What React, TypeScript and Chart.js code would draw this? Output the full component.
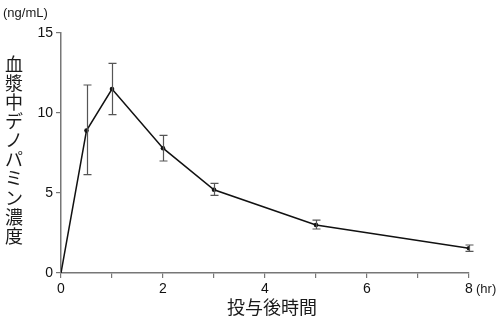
import React, { useEffect, useRef } from 'react';
import { Chart, registerables } from 'chart.js';
Chart.register(...registerables);

const hours = [0, 0.5, 1, 2, 3, 5, 8];
const meanConc = [0, 8.9, 11.5, 7.8, 5.2, 3.0, 1.55];
const errUpper: (number | null)[] = [null, 11.75, 13.1, 8.6, 5.6, 3.3, 1.75];
const errLower: (number | null)[] = [null, 6.15, 9.9, 7.0, 4.85, 2.75, 1.35];
const yTitle = '血漿中デノパミン濃度';
const xTitle = '投与後時間';
const yUnit = '(ng/mL)';
const xUnit = '(hr)';

const NUM_FONT = '"Liberation Sans", Arial, sans-serif';
const JP_FONT = '"Noto Sans CJK JP", sans-serif';

const extrasPlugin = {
  id: 'extras',
  afterDatasetsDraw(chart: any) {
    const { ctx, scales } = chart;
    const xs = scales.x;
    const ys = scales.y;
    ctx.save();
    ctx.strokeStyle = '#555';
    ctx.lineWidth = 1.2;
    for (let i = 0; i < hours.length; i++) {
      const up = errUpper[i];
      const lo = errLower[i];
      if (up == null || lo == null) continue;
      const px = Math.round(xs.getPixelForValue(hours[i])) + 0.5;
      const py1 = ys.getPixelForValue(up);
      const py2 = ys.getPixelForValue(lo);
      ctx.beginPath();
      ctx.moveTo(px, py1);
      ctx.lineTo(px, py2);
      ctx.moveTo(px - 4, py1);
      ctx.lineTo(px + 4, py1);
      ctx.moveTo(px - 4, py2);
      ctx.lineTo(px + 4, py2);
      ctx.stroke();
    }
    ctx.restore();
  },
  afterDraw(chart: any) {
    const { ctx, scales } = chart;
    const xs = scales.x;
    ctx.save();
    ctx.fillStyle = '#1a1a1a';
    // y unit
    ctx.font = `13px ${NUM_FONT}`;
    ctx.textAlign = 'left';
    ctx.textBaseline = 'middle';
    ctx.fillText(yUnit, 3, 13);
    // x unit
    ctx.fillText(xUnit, xs.right + 7, 289);
    // y title vertical
    ctx.font = `18px ${JP_FONT}`;
    ctx.textAlign = 'center';
    const chars = Array.from(yTitle);
    const startY = 64;
    const step = 19.1;
    chars.forEach((c, i) => {
      ctx.fillText(c, 14, startY + i * step);
    });
    // x title
    ctx.fillText(xTitle, 272, 307);
    ctx.restore();
  },
};

export default function App() {
  const ref = useRef<HTMLCanvasElement | null>(null);
  useEffect(() => {
    if (!ref.current) return;
    const chart = new Chart(ref.current, {
      type: 'line',
      data: {
        datasets: [
          {
            data: hours.map((h, i) => ({ x: h, y: meanConc[i] })),
            borderColor: '#111',
            backgroundColor: '#111',
            borderWidth: 1.5,
            tension: 0,
            pointRadius: hours.map((h) => (h === 0 ? 0 : 2.3)),
            pointBorderWidth: 0,
          },
        ],
      },
      options: {
        animation: false,
        responsive: false,
        maintainAspectRatio: false,
        events: [],
        layout: { padding: { left: 0, top: 33, right: 31, bottom: 0 } },
        plugins: { legend: { display: false }, tooltip: { enabled: false } },
        scales: {
          x: {
            type: 'linear',
            min: 0,
            max: 8,
            border: { color: '#777', width: 1.5 },
            grid: { drawOnChartArea: false, drawTicks: true, tickLength: 5, color: '#777', lineWidth: 1.2 },
            ticks: {
              stepSize: 1,
              autoSkip: false,
              maxRotation: 0,
              padding: 3,
              color: '#111',
              font: { family: NUM_FONT, size: 14 },
              callback: (v: any) => (Number(v) % 2 === 0 ? String(v) : ''),
            },
            afterFit: (s: any) => {
              s.height = 47;
            },
          },
          y: {
            min: 0,
            max: 15,
            border: { color: '#777', width: 1.5 },
            grid: { drawOnChartArea: false, drawTicks: true, tickLength: 5, color: '#777', lineWidth: 1.2 },
            ticks: {
              stepSize: 5,
              padding: 3,
              color: '#111',
              font: { family: NUM_FONT, size: 14 },
            },
            afterFit: (s: any) => {
              s.width = 61;
            },
          },
        },
      },
      plugins: [extrasPlugin],
    });
    return () => chart.destroy();
  }, []);
  return (
    <div style={{ position: 'fixed', left: 0, top: 0, width: 500, height: 320, background: '#fff' }}>
      <canvas ref={ref} width={500} height={320} style={{ width: 500, height: 320 }} />
    </div>
  );
}
